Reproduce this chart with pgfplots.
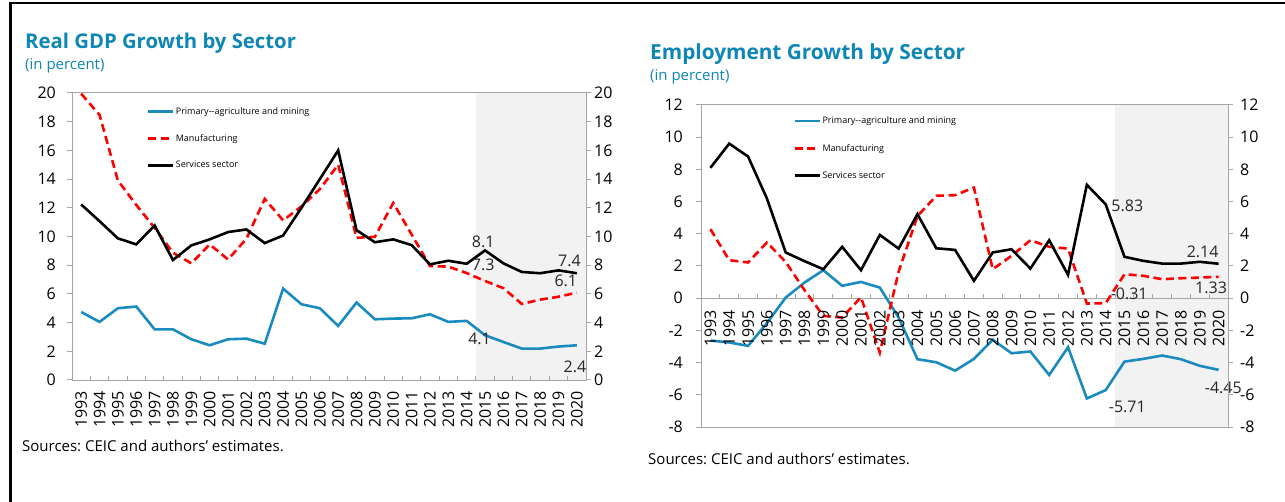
\documentclass[border=0pt]{standalone}
\usepackage{fontspec}
\setmainfont{Open Sans}
\usepackage{pgfplots}
\usepackage{pgfplotstable}
\pgfplotsset{compat=1.18}
\frenchspacing

\definecolor{prim}{HTML}{1A8BBF}
\definecolor{ttl}{HTML}{0E86B6}
\definecolor{axgray}{HTML}{A6A6A6}
\definecolor{bandgray}{HTML}{F2F2F2}

% real GDP growth, index 0 = 1993
\pgfplotstableread{
i prim manu serv
0 4.74 19.95 12.23
1 4.05 18.47 11.07
2 5.00 13.90 9.87
3 5.12 12.20 9.45
4 3.53 10.60 10.77
5 3.53 8.87 8.36
6 2.84 8.13 9.38
7 2.42 9.45 9.80
8 2.84 8.40 10.31
9 2.88 9.84 10.49
10 2.53 12.62 9.54
11 6.37 11.12 10.07
12 5.28 12.10 12.00
13 5.00 13.30 14.00
14 3.77 15.00 16.00
15 5.40 9.91 10.44
16 4.23 9.98 9.60
17 4.28 12.34 9.80
18 4.30 10.14 9.40
19 4.58 7.94 8.06
20 4.05 7.90 8.31
21 4.12 7.45 8.10
22 3.12 6.90 9.03
23 2.65 6.40 8.13
24 2.19 5.30 7.53
25 2.19 5.60 7.44
26 2.33 5.80 7.64
27 2.42 6.09 7.44
}\gdp

% employment growth
\pgfplotstableread{
i prim manu serv
0 -2.63 4.29 8.10
1 -2.75 2.36 9.60
2 -2.96 2.22 8.80
3 -1.55 3.46 6.20
4 0.04 2.25 2.84
5 0.97 0.50 2.30
6 1.74 -1.10 1.80
7 0.77 -1.20 3.19
8 1.01 0.06 1.74
9 0.66 -3.38 3.93
10 -1.20 1.65 3.08
11 -3.79 5.10 5.22
12 -3.98 6.36 3.10
13 -4.50 6.40 3.00
14 -3.77 6.87 1.08
15 -2.58 1.80 2.84
16 -3.42 2.63 3.04
17 -3.31 3.60 1.84
18 -4.77 3.19 3.60
19 -3.04 3.08 1.45
20 -6.23 -0.33 7.04
21 -5.71 -0.31 5.83
22 -3.94 1.49 2.57
23 -3.77 1.39 2.32
24 -3.56 1.18 2.15
25 -3.79 1.24 2.15
26 -4.20 1.28 2.26
27 -4.45 1.33 2.14
}\emp

\tikzset{lab/.style={font=\fontsize{16}{16}\selectfont, text=black!85}}

\pgfplotsset{
  tk/.style={font=\fontsize{16}{16}\selectfont},
  frame/.style={scale only axis, anchor=south west, xmin=-0.5, xmax=27.5,
    axis line style={axgray, line width=1pt}},
  yside/.style={frame, axis x line=none, tick align=outside, major tick length=5pt,
    tick style={axgray, line width=1pt}, yticklabel style={tk},
    /pgf/number format/assume math mode=true},
  main/.style={frame, axis on top, ytick=\empty, clip=false,
    xtick={0,...,27},
    xticklabels={1993,1994,1995,1996,1997,1998,1999,2000,2001,2002,2003,2004,2005,2006,
      2007,2008,2009,2010,2011,2012,2013,2014,2015,2016,2017,2018,2019,2020},
    major x tick style={draw=none}, minor xtick={0.5,1.5,...,26.5},
    minor x tick style={axgray, line width=1pt}, xtick pos=bottom,
    tick align=inside, minor tick length=4pt,
    legend cell align=left,
    legend image code/.code={\draw[##1] (0pt,0pt) -- (25pt,0pt);},
    legend style={anchor=north west, draw=none, fill=none, inner sep=0pt,
      font=\fontsize{9}{9}\selectfont, row sep=15.5pt, nodes={inner sep=1.5pt}}},
  pline/.style={prim, line width=2.6pt},
  mline/.style={red, line width=2.6pt, dash pattern=on 8pt off 4.5pt},
  sline/.style={black, line width=2.6pt}
}

\begin{document}
\begin{tikzpicture}[x=1pt,y=1pt]
\useasboundingbox (0,0) rectangle (1285,-502);
\draw[line width=2.4pt] (10.5,-502) -- (10.5,-2.8) -- (1285,-2.8);

% ---------- left panel
\node[anchor=base west, font=\bfseries\fontsize{20.3}{21}\selectfont, text=ttl, inner sep=0pt] at (25,-49) {Real GDP Growth by Sector};
\node[anchor=base west, font=\fontsize{15}{15}\selectfont, text=ttl, inner sep=0pt] at (25,-70) {(in percent)};
\node[anchor=base west, font=\fontsize{15}{15}\selectfont, inner sep=0pt] at (22,-451) {Sources: CEIC and authors' estimates.};

\begin{axis}[main, at={(72pt,-380pt)}, width=514pt, height=287pt, ymin=0, ymax=20,
  xticklabel style={tk, yshift=-11pt, rotate=90, anchor=east, inner sep=0pt},
  legend style={at={(0.145,0.955)}}]
\fill[bandgray] (axis cs:21.5,0) rectangle (axis cs:27.5,20);
\addplot[pline] table[x=i, y=prim] {\gdp};
\addplot[mline] table[x=i, y=manu] {\gdp};
\addplot[sline] table[x=i, y=serv] {\gdp};
\legend{Primary-{}-agriculture and mining, Manufacturing, Services sector}
\node[lab] at (axis cs:21.9,9.6) {8.1};
\node[lab] at (axis cs:21.9,8.0) {7.3};
\node[lab] at (axis cs:26.6,8.3) {7.4};
\node[lab] at (axis cs:26.4,6.9) {6.1};
\node[lab] at (axis cs:21.7,2.85) {4.1};
\node[lab] at (axis cs:26.9,0.9) {2.4};
\end{axis}
\begin{axis}[yside, at={(72pt,-380pt)}, width=514pt, height=287pt, ymin=0, ymax=20,
  axis y line*=left, ytick={0,2,...,20}, yticklabel style={inner sep=3pt, xshift=-8pt}]
\end{axis}
\begin{axis}[yside, at={(72pt,-380pt)}, width=514pt, height=287pt, ymin=0, ymax=20,
  axis y line*=right, ytick={0,2,...,20}, yticklabel style={inner sep=3pt}]
\end{axis}

% ---------- right panel
\node[anchor=base west, font=\bfseries\fontsize{20.8}{21}\selectfont, text=ttl, inner sep=0pt] at (650,-60) {Employment Growth by Sector};
\node[anchor=base west, font=\fontsize{15}{15}\selectfont, text=ttl, inner sep=0pt] at (650,-81) {(in percent)};
\node[anchor=base west, font=\fontsize{15}{15}\selectfont, inner sep=0pt] at (648,-464) {Sources: CEIC and authors' estimates.};

\begin{axis}[main, at={(701pt,-427pt)}, width=527pt, height=322pt, ymin=-8, ymax=12,
  xticklabel style={tk, yshift=117pt, rotate=90, anchor=east, inner sep=0pt},
  minor x tick style={yshift=128.8pt},
  legend style={at={(0.175,0.968)}, row sep=16pt}]
\fill[bandgray] (axis cs:21.5,-8) rectangle (axis cs:27.5,12);
\draw[axgray, line width=1pt] (axis cs:-0.5,0) -- (axis cs:27.5,0);
\addplot[pline] table[x=i, y=prim] {\emp};
\addplot[mline] table[x=i, y=manu] {\emp};
\addplot[sline] table[x=i, y=serv] {\emp};
\legend{Primary-{}-agriculture and mining, Manufacturing, Services sector}
\node[lab] at (axis cs:22.15,5.73) {5.83};
\node[lab] at (axis cs:26.15,2.88) {2.14};
\node[lab] at (axis cs:22.25,0.25) {-0.31};
\node[lab] at (axis cs:26.6,0.66) {1.33};
\node[lab] at (axis cs:22.15,-6.75) {-5.71};
\node[lab] at (axis cs:27.25,-5.6) {-4.45};
\end{axis}
\begin{axis}[yside, at={(701pt,-427pt)}, width=527pt, height=322pt, ymin=-8, ymax=12,
  axis y line*=left, ytick={-8,-6,...,12}, yticklabel style={inner sep=3pt, xshift=-10pt}]
\end{axis}
\begin{axis}[yside, at={(701pt,-427pt)}, width=527pt, height=322pt, ymin=-8, ymax=12,
  axis y line*=right, ytick={-8,-6,...,12}, yticklabel style={inner sep=3pt, xshift=4pt}]
\end{axis}
\end{tikzpicture}
\end{document}
